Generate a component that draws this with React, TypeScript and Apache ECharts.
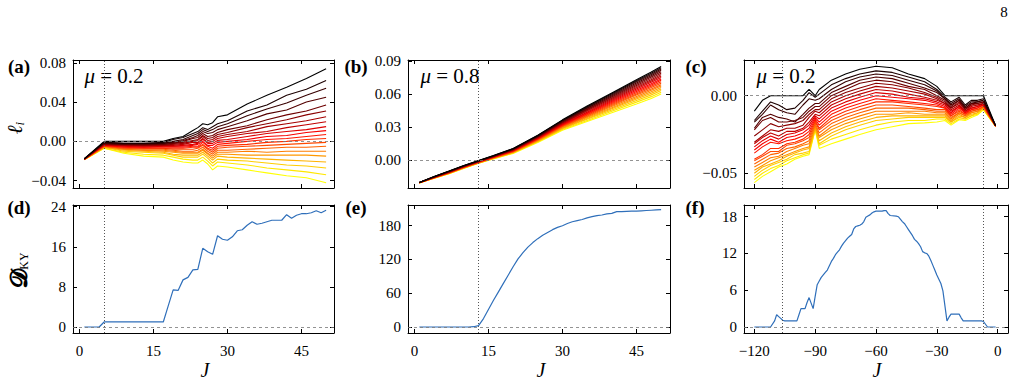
import React, { useEffect, useRef } from "react";
import * as echarts from "echarts";

// ---------- (a) mu = 0.2 : Lyapunov exponents l_i vs J (each column: 20 exponents, largest first)
const jA = [1, 5, 9, 13, 17, 19, 21, 23, 24, 25, 26, 27, 28, 30, 34, 38, 42, 46, 50];
const lyapA = [
  [-0.0175, -0.0176, -0.0177, -0.0178, -0.0178, -0.0179, -0.018, -0.018, -0.018, -0.0181, -0.0181, -0.0182, -0.0182, -0.0183, -0.0183, -0.0184, -0.0184, -0.0185, -0.0185, -0.0186],
  [0, -0.001, -0.001, -0.002, -0.002, -0.002, -0.003, -0.003, -0.003, -0.004, -0.004, -0.004, -0.005, -0.005, -0.005, -0.006, -0.006, -0.006, -0.007, -0.007],
  [0, -0.002, -0.002, -0.003, -0.003, -0.003, -0.004, -0.004, -0.005, -0.005, -0.006, -0.006, -0.007, -0.007, -0.008, -0.008, -0.009, -0.01, -0.011, -0.012],
  [0, -0.002, -0.002, -0.003, -0.003, -0.004, -0.004, -0.005, -0.005, -0.006, -0.006, -0.007, -0.007, -0.008, -0.009, -0.009, -0.01, -0.011, -0.013, -0.015],
  [0, -0.001, -0.002, -0.002, -0.003, -0.003, -0.004, -0.004, -0.005, -0.005, -0.006, -0.007, -0.007, -0.008, -0.009, -0.01, -0.011, -0.012, -0.014, -0.016],
  [0.003, 0.002, 0, -0.001, -0.002, -0.002, -0.003, -0.004, -0.005, -0.005, -0.006, -0.007, -0.008, -0.009, -0.01, -0.011, -0.013, -0.014, -0.016, -0.019],
  [0.005, 0.004, 0.002, 0.001, 0, -0.001, -0.002, -0.003, -0.004, -0.005, -0.006, -0.007, -0.008, -0.01, -0.011, -0.012, -0.014, -0.016, -0.018, -0.021],
  [0.011, 0.008, 0.006, 0.004, 0.003, 0.001, 0, -0.001, -0.003, -0.004, -0.005, -0.006, -0.008, -0.01, -0.011, -0.012, -0.014, -0.016, -0.019, -0.022],
  [0.014, 0.01, 0.008, 0.006, 0.004, 0.002, 0.001, -0.001, -0.002, -0.003, -0.005, -0.006, -0.007, -0.009, -0.011, -0.012, -0.014, -0.016, -0.019, -0.022],
  [0.018, 0.014, 0.012, 0.01, 0.008, 0.006, 0.005, 0.003, 0.002, 0, -0.001, -0.003, -0.004, -0.006, -0.008, -0.009, -0.011, -0.013, -0.016, -0.019],
  [0.017, 0.012, 0.01, 0.008, 0.005, 0.003, 0.001, -0.001, -0.002, -0.004, -0.005, -0.007, -0.008, -0.01, -0.012, -0.013, -0.015, -0.017, -0.02, -0.023],
  [0.019, 0.015, 0.012, 0.009, 0.006, 0.004, 0.002, 0, -0.002, -0.004, -0.007, -0.009, -0.011, -0.013, -0.015, -0.017, -0.019, -0.022, -0.025, -0.029],
  [0.025, 0.018, 0.015, 0.012, 0.009, 0.007, 0.005, 0.003, 0.001, -0.001, -0.003, -0.005, -0.007, -0.009, -0.011, -0.013, -0.015, -0.018, -0.021, -0.025],
  [0.027, 0.021, 0.018, 0.015, 0.012, 0.009, 0.007, 0.005, 0.002, 0, -0.002, -0.004, -0.006, -0.009, -0.011, -0.013, -0.016, -0.019, -0.022, -0.026],
  [0.038, 0.031, 0.026, 0.021, 0.016, 0.014, 0.01, 0.008, 0.005, 0.002, 0, -0.003, -0.005, -0.008, -0.01, -0.014, -0.017, -0.02, -0.024, -0.029],
  [0.047, 0.037, 0.033, 0.028, 0.022, 0.018, 0.015, 0.01, 0.008, 0.005, 0.002, -0.001, -0.004, -0.007, -0.011, -0.014, -0.018, -0.022, -0.027, -0.032],
  [0.055, 0.047, 0.039, 0.032, 0.027, 0.022, 0.018, 0.014, 0.01, 0.006, 0.003, 0, -0.003, -0.006, -0.01, -0.014, -0.019, -0.024, -0.029, -0.035],
  [0.064, 0.053, 0.047, 0.04, 0.031, 0.027, 0.021, 0.017, 0.012, 0.009, 0.005, 0.002, -0.002, -0.006, -0.01, -0.014, -0.02, -0.025, -0.031, -0.037],
  [0.074, 0.062, 0.054, 0.045, 0.037, 0.031, 0.025, 0.02, 0.015, 0.011, 0.007, 0.003, -0.001, -0.005, -0.01, -0.015, -0.021, -0.027, -0.034, -0.042],
];

// ---------- (b) mu = 0.8
const jB = [1, 4, 7, 10, 13, 16, 20, 25, 30, 35, 40, 45, 48, 50];
const lyapB = [
  [-0.0204, -0.0204, -0.0204, -0.0205, -0.0205, -0.0205, -0.0205, -0.0205, -0.0206, -0.0206, -0.0206, -0.0206, -0.0206, -0.0207, -0.0207, -0.0207, -0.0207, -0.0208, -0.0208, -0.0208],
  [-0.015, -0.0151, -0.0152, -0.0153, -0.0154, -0.0155, -0.0156, -0.0157, -0.0157, -0.0158, -0.0159, -0.016, -0.0161, -0.0162, -0.0162, -0.0163, -0.0164, -0.0165, -0.0165, -0.0166],
  [-0.01, -0.0102, -0.0103, -0.0105, -0.0106, -0.0108, -0.0109, -0.011, -0.0112, -0.0113, -0.0114, -0.0116, -0.0117, -0.0118, -0.0119, -0.012, -0.0121, -0.0122, -0.0124, -0.0125],
  [-0.005, -0.0052, -0.0053, -0.0055, -0.0056, -0.0058, -0.0059, -0.006, -0.0062, -0.0063, -0.0064, -0.0066, -0.0067, -0.0068, -0.0069, -0.007, -0.0072, -0.0073, -0.0075, -0.0076],
  [-0.0005, -0.0007, -0.0008, -0.001, -0.0011, -0.0012, -0.0014, -0.0015, -0.0016, -0.0018, -0.0019, -0.002, -0.0021, -0.0022, -0.0024, -0.0025, -0.0026, -0.0027, -0.0029, -0.003],
  [0.004, 0.0038, 0.0037, 0.0035, 0.0034, 0.0032, 0.0031, 0.0029, 0.0028, 0.0026, 0.0025, 0.0023, 0.0022, 0.002, 0.0019, 0.0017, 0.0016, 0.0014, 0.0012, 0.001],
  [0.0105, 0.0103, 0.0101, 0.0098, 0.0096, 0.0094, 0.0092, 0.0089, 0.0087, 0.0085, 0.0083, 0.008, 0.0078, 0.0076, 0.0073, 0.0071, 0.0068, 0.0066, 0.0063, 0.006],
  [0.0225, 0.0222, 0.0218, 0.0215, 0.0212, 0.0209, 0.0206, 0.0202, 0.0199, 0.0196, 0.0193, 0.019, 0.0187, 0.0183, 0.018, 0.0176, 0.0173, 0.0169, 0.0165, 0.016],
  [0.0365, 0.036, 0.0356, 0.0351, 0.0346, 0.0342, 0.0337, 0.0333, 0.0328, 0.0323, 0.0319, 0.0314, 0.0309, 0.0304, 0.0299, 0.0294, 0.0289, 0.0284, 0.0277, 0.027],
  [0.049, 0.0484, 0.0477, 0.047, 0.0463, 0.0456, 0.0449, 0.0442, 0.0435, 0.0428, 0.0421, 0.0414, 0.0407, 0.04, 0.0393, 0.0386, 0.0378, 0.037, 0.036, 0.035],
  [0.061, 0.0602, 0.0594, 0.0585, 0.0576, 0.0567, 0.0558, 0.0549, 0.054, 0.0531, 0.0522, 0.0513, 0.0504, 0.0495, 0.0486, 0.0476, 0.0466, 0.0455, 0.0443, 0.043],
  [0.073, 0.0721, 0.0711, 0.07, 0.0689, 0.0678, 0.0667, 0.0656, 0.0645, 0.0634, 0.0623, 0.0612, 0.0601, 0.059, 0.0578, 0.0566, 0.0554, 0.0541, 0.0526, 0.051],
  [0.08, 0.0789, 0.0778, 0.0766, 0.0754, 0.0742, 0.073, 0.0718, 0.0706, 0.0694, 0.0682, 0.067, 0.0658, 0.0646, 0.0633, 0.062, 0.0606, 0.0592, 0.0576, 0.056],
  [0.085, 0.0839, 0.0827, 0.0815, 0.0802, 0.0789, 0.0776, 0.0763, 0.075, 0.0737, 0.0724, 0.0711, 0.0698, 0.0685, 0.0672, 0.0659, 0.0645, 0.0631, 0.0616, 0.06],
];

// ---------- (c) mu = 0.2, negative couplings
const jC = [-120, -116, -112, -108, -104, -100, -96, -93, -90, -88, -82, -75, -68, -60, -52, -44, -36, -30, -26, -23, -19, -16, -13, -10, -7, -1];
const lyapC = [
  [-0.01, -0.016, -0.017, -0.021, -0.022, -0.026, -0.03, -0.031, -0.033, -0.035, -0.037, -0.041, -0.042, -0.044, -0.046, -0.048, -0.05, -0.052, -0.054, -0.056],
  [-0.003, -0.01, -0.012, -0.014, -0.016, -0.022, -0.026, -0.027, -0.029, -0.031, -0.033, -0.038, -0.039, -0.041, -0.043, -0.045, -0.046, -0.048, -0.05, -0.052],
  [0, -0.004, -0.006, -0.012, -0.014, -0.018, -0.022, -0.024, -0.026, -0.028, -0.03, -0.034, -0.036, -0.038, -0.04, -0.042, -0.044, -0.045, -0.047, -0.049],
  [0, -0.006, -0.009, -0.014, -0.017, -0.02, -0.023, -0.026, -0.028, -0.03, -0.031, -0.034, -0.036, -0.037, -0.039, -0.04, -0.042, -0.043, -0.045, -0.046],
  [0, -0.009, -0.011, -0.015, -0.017, -0.019, -0.021, -0.023, -0.025, -0.027, -0.029, -0.031, -0.032, -0.034, -0.036, -0.038, -0.039, -0.041, -0.042, -0.044],
  [0, -0.008, -0.012, -0.017, -0.016, -0.018, -0.021, -0.023, -0.024, -0.026, -0.028, -0.03, -0.031, -0.033, -0.034, -0.036, -0.037, -0.038, -0.04, -0.041],
  [0, -0.003, -0.006, -0.012, -0.014, -0.016, -0.019, -0.021, -0.022, -0.024, -0.026, -0.028, -0.029, -0.031, -0.032, -0.034, -0.035, -0.037, -0.038, -0.039],
  [0.004, 0.002, -0.002, -0.008, -0.01, -0.012, -0.014, -0.017, -0.019, -0.021, -0.023, -0.025, -0.027, -0.029, -0.031, -0.033, -0.034, -0.036, -0.037, -0.038],
  [0, -0.001, -0.003, -0.005, -0.007, -0.009, -0.01, -0.012, -0.013, -0.014, -0.015, -0.016, -0.017, -0.018, -0.019, -0.02, -0.021, -0.021, -0.022, -0.022],
  [0.004, 0.001, -0.002, -0.005, -0.007, -0.009, -0.011, -0.013, -0.015, -0.017, -0.019, -0.021, -0.022, -0.024, -0.026, -0.027, -0.029, -0.031, -0.032, -0.034],
  [0.01, 0.007, 0.004, 0.002, 0, -0.002, -0.004, -0.006, -0.008, -0.01, -0.012, -0.014, -0.016, -0.018, -0.02, -0.022, -0.024, -0.026, -0.028, -0.031],
  [0.014, 0.011, 0.009, 0.006, 0.004, 0.002, 0, -0.002, -0.004, -0.006, -0.008, -0.01, -0.012, -0.014, -0.016, -0.018, -0.02, -0.022, -0.025, -0.028],
  [0.017, 0.014, 0.012, 0.01, 0.008, 0.005, 0.003, 0.001, -0.001, -0.003, -0.005, -0.007, -0.009, -0.011, -0.013, -0.015, -0.017, -0.019, -0.022, -0.025],
  [0.019, 0.016, 0.014, 0.012, 0.01, 0.008, 0.006, 0.004, 0.002, 0, -0.002, -0.004, -0.006, -0.008, -0.01, -0.012, -0.014, -0.016, -0.019, -0.022],
  [0.018, 0.015, 0.013, 0.011, 0.009, 0.007, 0.005, 0.003, 0.001, -0.001, -0.003, -0.004, -0.006, -0.008, -0.01, -0.012, -0.013, -0.015, -0.017, -0.02],
  [0.014, 0.012, 0.01, 0.008, 0.006, 0.005, 0.003, 0.001, -0.001, -0.002, -0.004, -0.005, -0.007, -0.008, -0.01, -0.011, -0.013, -0.014, -0.016, -0.018],
  [0.011, 0.009, 0.007, 0.005, 0.004, 0.002, 0.001, -0.001, -0.002, -0.003, -0.005, -0.006, -0.008, -0.009, -0.01, -0.012, -0.013, -0.014, -0.016, -0.0175],
  [0.006, 0.004, 0.003, 0.002, 0, -0.001, -0.002, -0.003, -0.004, -0.005, -0.006, -0.007, -0.009, -0.01, -0.011, -0.012, -0.013, -0.014, -0.015, -0.017],
  [0, -0.001, -0.002, -0.002, -0.003, -0.004, -0.005, -0.005, -0.006, -0.007, -0.008, -0.008, -0.009, -0.01, -0.011, -0.012, -0.013, -0.014, -0.015, -0.016],
  [0, -0.004, -0.005, -0.006, -0.007, -0.008, -0.008, -0.009, -0.01, -0.011, -0.012, -0.013, -0.013, -0.014, -0.015, -0.016, -0.017, -0.017, -0.018, -0.019],
  [0, -0.001, -0.002, -0.003, -0.003, -0.004, -0.005, -0.006, -0.007, -0.007, -0.008, -0.009, -0.01, -0.011, -0.011, -0.012, -0.013, -0.014, -0.015, -0.0155],
  [0, -0.006, -0.007, -0.008, -0.008, -0.009, -0.009, -0.01, -0.01, -0.011, -0.011, -0.012, -0.012, -0.013, -0.013, -0.014, -0.014, -0.015, -0.015, -0.016],
  [0, -0.003, -0.004, -0.005, -0.005, -0.006, -0.006, -0.007, -0.008, -0.008, -0.009, -0.009, -0.01, -0.01, -0.011, -0.011, -0.012, -0.013, -0.013, -0.014],
  [0, -0.003, -0.004, -0.004, -0.005, -0.005, -0.006, -0.006, -0.007, -0.007, -0.008, -0.008, -0.009, -0.009, -0.01, -0.01, -0.011, -0.011, -0.012, -0.0125],
  [0, -0.002, -0.003, -0.003, -0.004, -0.004, -0.005, -0.005, -0.005, -0.006, -0.006, -0.006, -0.007, -0.007, -0.007, -0.008, -0.008, -0.008, -0.009, -0.009],
  [-0.0193, -0.0193, -0.0194, -0.0194, -0.0194, -0.0195, -0.0195, -0.0195, -0.0195, -0.0195, -0.0196, -0.0196, -0.0196, -0.0196, -0.0197, -0.0197, -0.0197, -0.0197, -0.0198, -0.0198],
];

// ---------- (d), (e): Kaplan-Yorke dimension for J = 1..50
const dkyD = [0, 0, 0, 0, 1, 1, 1, 1, 1, 1, 1, 1, 1, 1, 1, 1, 1, 4.2, 7.4, 7.3, 9.4, 9.9, 11.4, 11.5, 15.7, 15.0, 14.5, 18.2, 17.5, 17.3, 18.0, 19.2, 19.4, 20.3, 21.0, 20.5, 20.7, 21.0, 21.3, 21.3, 21.3, 22.4, 21.7, 22.3, 22.6, 22.6, 22.8, 23.2, 22.8, 23.3];
const dkyE = [0, 0, 0, 0, 0, 0, 0, 0, 0, 0, 0, 0.5, 2.5, 15, 31, 47, 62, 77, 92, 107, 121, 132, 142, 150, 157, 163, 168, 173, 177, 180, 184, 187, 189, 191, 194, 196, 198, 199, 201, 202, 205, 205, 205.5, 206, 206, 206.5, 207, 207.5, 208, 208.5];

// ---------- (f): Kaplan-Yorke dimension, [J, D_KY]
const dkyF: [number, number][] = [
  [-120, 0], [-112, 0], [-110, 1.0], [-109, 2.0], [-108, 1.7], [-107, 1.4], [-106, 1.1], [-105, 1.0], [-99, 1.0], [-98, 2.0], [-97, 3.0], [-95, 3.0], [-94, 4.0], [-93, 4.8], [-92, 3.9], [-91, 3.0], [-90, 5.0], [-89, 6.9], [-88, 7.5], [-87, 8.1], [-86, 8.5], [-85, 8.9], [-84, 9.3], [-83, 10.0], [-82, 10.7], [-81, 11.2], [-80, 11.8], [-79, 12.2], [-78, 12.6], [-77, 13.2], [-76, 13.7], [-75, 14.1], [-74, 14.5], [-73, 14.8], [-72, 15.1], [-71, 16.0], [-70, 16.4], [-69, 16.5], [-68, 16.6], [-67, 16.8], [-66, 17.2], [-65, 17.9], [-64, 18.1], [-63, 18.3], [-62, 18.6], [-61, 18.8], [-60, 18.9], [-57, 18.9], [-56, 19.0], [-55, 19.0], [-54, 18.5], [-53, 18.2], [-50, 18.1], [-49, 18.0], [-48, 17.6], [-47, 17.2], [-46, 16.9], [-45, 16.4], [-44, 15.9], [-43, 15.4], [-42, 14.9], [-41, 14.3], [-40, 14.0], [-39, 13.6], [-38, 13.1], [-37, 12.3], [-36, 12.1], [-35, 12.0], [-34, 11.6], [-33, 10.9], [-32, 10.1], [-31, 9.3], [-30, 8.5], [-29, 7.8], [-28, 7.1], [-27, 5.9], [-25, 1.0], [-24, 1.6], [-23, 2.1], [-19, 2.1], [-18, 1.5], [-17, 1.0], [-8, 1.0], [-7, 0.9], [-5, 0], [-1, 0],
];

// ---------- tick values and reference markers
const xTicksPos = [0, 15, 30, 45];
const xTicksNeg = [-120, -90, -60, -30, 0];
const yTicksA = [-0.04, 0, 0.04, 0.08];
const yTicksB = [0, 0.03, 0.06, 0.09];
const yTicksC = [-0.05, 0];
const yTicksD = [0, 8, 16, 24];
const yTicksE = [0, 60, 120, 180];
const yTicksF = [0, 6, 12, 18];
const markerA = [5];
const markerB = [13];
const markerC = [-106, -7];

const SERIF = "Liberation Serif";
const BLUE = "#2f6fba";

// matplotlib-like "hot" colour ramp
const hot = (t: number) => {
  const r = Math.min(1, t / 0.365);
  const g = Math.max(0, Math.min(1, (t - 0.365) / 0.381));
  const b = Math.max(0, Math.min(1, (t - 0.746) / 0.254));
  return `rgb(${Math.round(r * 255)},${Math.round(g * 255)},${Math.round(b * 255)})`;
};

const minusFmt = (v: number, d: number) => (v < -1e-12 ? "\u2212" : "") + Math.abs(v).toFixed(d);

type Panel = {
  left: number; top: number; width: number; height: number;
  xMin: number; xMax: number; yMin: number; yMax: number;
  xTicks: number[]; yTicks: number[]; yDec: number; showX: boolean;
};

const panels: Panel[] = [
  { left: 73, top: 60, width: 261, height: 128, xMin: -1.3, xMax: 51.6, yMin: -0.0474, yMax: 0.0828, xTicks: xTicksPos, yTicks: yTicksA, yDec: 2, showX: false },
  { left: 408, top: 60, width: 262, height: 128, xMin: -1.3, xMax: 51.8, yMin: -0.02545, yMax: 0.0909, xTicks: xTicksPos, yTicks: yTicksB, yDec: 2, showX: false },
  { left: 744, top: 60, width: 264, height: 128, xMin: -125.1, xMax: 5.1, yMin: -0.0595, yMax: 0.023, xTicks: xTicksNeg, yTicks: yTicksC, yDec: 2, showX: false },
  { left: 73, top: 205, width: 261, height: 128, xMin: -1.3, xMax: 51.6, yMin: -1.2, yMax: 24.34, xTicks: xTicksPos, yTicks: yTicksD, yDec: 0, showX: true },
  { left: 408, top: 205, width: 262, height: 128, xMin: -1.3, xMax: 51.8, yMin: -10.66, yMax: 216.8, xTicks: xTicksPos, yTicks: yTicksE, yDec: 0, showX: true },
  { left: 744, top: 205, width: 264, height: 128, xMin: -125.1, xMax: 5.1, yMin: -0.98, yMax: 19.91, xTicks: xTicksNeg, yTicks: yTicksF, yDec: 0, showX: true },
];

const fanSeries = (jList: number[], cols: number[][], gi: number) => {
  const n = cols[0].length;
  const out: any[] = [];
  for (let k = n - 1; k >= 0; k--) {
    out.push({
      type: "line", xAxisIndex: 2 * gi, yAxisIndex: 2 * gi, symbol: "none", silent: true, z: 3,
      lineStyle: { width: 1.1, color: hot((0.75 * k) / (n - 1)) },
      data: jList.map((j, c) => [j, cols[c][k]]),
    });
  }
  return out;
};

const guideSeries = (gi: number, xs: number[]) => ({
  type: "line", xAxisIndex: 2 * gi, yAxisIndex: 2 * gi, data: [], silent: true, z: 1,
  markLine: {
    silent: true, symbol: "none", animation: false, label: { show: false },
    data: [
      { yAxis: 0, lineStyle: { type: [3, 3], color: "#777", width: 0.8 } },
      ...xs.map((x) => ({ xAxis: x, lineStyle: { type: [1, 2], color: "#555", width: 1 } })),
    ],
  },
});

const blueSeries = (gi: number, data: number[][]) => ({
  type: "line", xAxisIndex: 2 * gi, yAxisIndex: 2 * gi, symbol: "none", silent: true, z: 3,
  lineStyle: { width: 1.2, color: BLUE }, data,
});

const text = (x: number, y: number, str: string, font: string) => ({
  type: "text", x, y, silent: true,
  style: { text: str, font, fill: "#000", align: "center", verticalAlign: "middle" },
});

export default function App() {
  const ref = useRef<HTMLDivElement>(null);
  useEffect(() => {
    document.body.style.margin = "0";
    if (!ref.current) return;
    const chart = echarts.init(ref.current, undefined, { renderer: "svg" });

    const xAxis: any[] = [];
    const yAxis: any[] = [];
    panels.forEach((p, i) => {
      const line = { show: true, onZero: false, lineStyle: { color: "#000", width: 1 } };
      const tick = (vals: number[]) => ({ show: true, inside: true, length: 4, customValues: vals, lineStyle: { color: "#000", width: 1 } });
      const lbl = { fontFamily: SERIF, fontSize: 15, color: "#000" };
      xAxis.push({
        type: "value", gridIndex: i, position: "bottom", min: p.xMin, max: p.xMax,
        axisLine: line, axisTick: tick(p.xTicks), splitLine: { show: false },
        axisLabel: { show: p.showX, customValues: p.xTicks, margin: 10, formatter: (v: number) => minusFmt(v, 0), ...lbl },
      });
      xAxis.push({
        type: "value", gridIndex: i, position: "top", min: p.xMin, max: p.xMax,
        axisLine: line, axisTick: tick(p.xTicks), splitLine: { show: false }, axisLabel: { show: false },
      });
      yAxis.push({
        type: "value", gridIndex: i, position: "left", min: p.yMin, max: p.yMax,
        axisLine: line, axisTick: tick(p.yTicks), splitLine: { show: false },
        axisLabel: { show: true, customValues: p.yTicks, margin: 7, formatter: (v: number) => minusFmt(v, p.yDec), ...lbl },
      });
      yAxis.push({
        type: "value", gridIndex: i, position: "right", min: p.yMin, max: p.yMax,
        axisLine: line, axisTick: tick(p.yTicks), splitLine: { show: false }, axisLabel: { show: false },
      });
    });

    const idx = (arr: number[]) => arr.map((v, i) => [i + 1, v]);

    const series: any[] = [
      guideSeries(0, markerA), guideSeries(1, markerB), guideSeries(2, markerC),
      guideSeries(3, markerA), guideSeries(4, markerB), guideSeries(5, markerC),
      ...fanSeries(jA, lyapA, 0),
      ...fanSeries(jB, lyapB, 1),
      ...fanSeries(jC, lyapC, 2),
      blueSeries(3, idx(dkyD)),
      blueSeries(4, idx(dkyE)),
      blueSeries(5, dkyF),
    ];

    const bold = `bold 19px ${SERIF}`;
    const graphic: any[] = [
      text(1004, 12, "8", `15px ${SERIF}`),
      text(19, 66, "(a)", bold), text(356, 66, "(b)", bold), text(696, 66, "(c)", bold),
      text(19, 207, "(d)", bold), text(356, 207, "(e)", bold), text(695, 207, "(f)", bold),
      ...[[114, "0.2"], [450, "0.8"], [786, "0.2"]].map(([x, v]) => ({
        type: "text", x: x as number, y: 76, silent: true,
        style: {
          text: `{m|\u03bc} = ${v}`, font: `21px ${SERIF}`, fill: "#000", align: "center", verticalAlign: "middle",
          rich: { m: { font: `italic 21px ${SERIF}` } },
        },
      })),
      ...[205, 541, 877].map((x) => text(x, 370, "J", `italic 20px ${SERIF}`)),
      {
        type: "text", x: 15, y: 128, rotation: Math.PI / 2, silent: true,
        style: {
          text: "{a|\u2113}{b|i}", fill: "#000", align: "center", verticalAlign: "middle",
          rich: { a: { font: `italic 21px ${SERIF}` }, b: { font: `italic 13px ${SERIF}`, padding: [9, 0, 0, 0] } },
        },
      },
      {
        type: "text", x: 19, y: 270, rotation: Math.PI / 2, silent: true,
        style: {
          text: "{a|\ud835\udcd3}{b|KY}", fill: "#000", align: "center", verticalAlign: "middle",
          rich: { a: { font: `bold 24px DejaVu Sans` }, b: { font: `12px ${SERIF}`, padding: [10, 0, 0, 0] } },
        },
      },
    ];

    chart.setOption({
      animation: false,
      backgroundColor: "#fff",
      grid: panels.map((p) => ({ left: p.left, top: p.top, width: p.width, height: p.height, containLabel: false })),
      xAxis, yAxis, series, graphic,
    });
    return () => chart.dispose();
  }, []);
  return <div ref={ref} style={{ width: 1023, height: 385 }} />;
}
